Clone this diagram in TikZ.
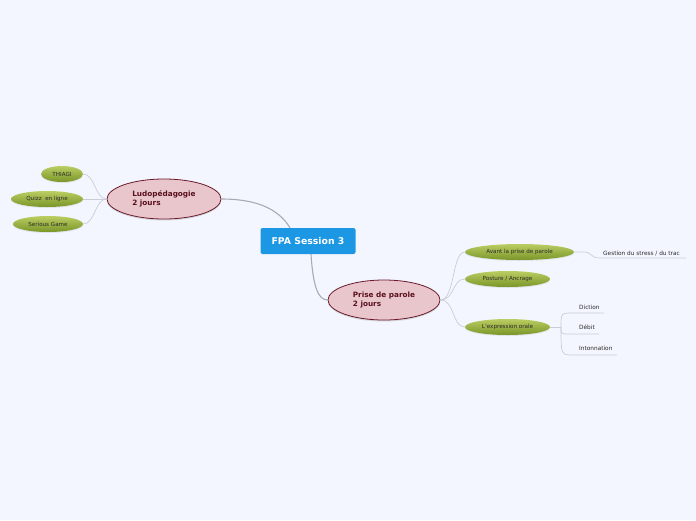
\documentclass[tikz,border=0pt]{standalone}
\usepackage{fontspec}
\setmainfont{DejaVu Sans}
\usetikzlibrary{shapes.geometric,shadows,calc}
\definecolor{bg}{HTML}{F3F6FE}
\definecolor{rootblue}{HTML}{1C97E4}
\definecolor{mainfill}{HTML}{E8C6CB}
\definecolor{mainborder}{HTML}{6A1A2A}
\definecolor{maintext}{HTML}{5A0F1E}
\definecolor{greentop}{HTML}{BACD62}
\definecolor{greenbot}{HTML}{7A9628}
\definecolor{trunkcol}{HTML}{A8AAB4}
\definecolor{twigcol}{HTML}{C9CDD8}
\definecolor{leaftext}{HTML}{2A2A2A}
\tikzset{
  rootbox/.style={fill=rootblue, rounded corners=2pt, text=white, inner sep=0pt,
    font=\fontsize{9.3}{11}\selectfont\bfseries, minimum width=95pt, minimum height=26pt},
  mainnode/.style={ellipse, draw=mainborder, line width=0.8pt, fill=mainfill, inner sep=0pt,
    minimum width=114pt, minimum height=40pt, align=left, text=maintext,
    font=\fontsize{7.3}{9}\selectfont\bfseries,
    drop shadow={opacity=0.25, shadow xshift=0pt, shadow yshift=-1.5pt}},
  subnode/.style={ellipse, top color=greentop, bottom color=greenbot, inner sep=0pt,
    minimum height=16pt, text=leaftext, font=\fontsize{5.6}{6.5}\selectfont,
    drop shadow={opacity=0.15, shadow xshift=0pt, shadow yshift=-1pt}},
  leafnode/.style={inner sep=0pt, anchor=base west, text=leaftext, font=\fontsize{5.8}{7}\selectfont},
  trunk/.style={draw=trunkcol, line width=1.1pt},
  twig/.style={draw=twigcol, line width=0.7pt}
}
\begin{document}
\begin{tikzpicture}[x=1pt,y=-1pt]
\fill[bg] (0,0) rectangle (696,520);
\useasboundingbox (0,0) rectangle (696,520);

% nodes
\node[rootbox] (root) at (308,241) {FPA Session 3};
\node[mainnode] (ludo) at (164,199) {Ludopédagogie\\2 jours};
\node[mainnode, minimum width=112pt] (prise) at (384,300) {Prise de parole\\2 jours};

\node[subnode, minimum width=42pt] (thiagi) at (62,174) {THIAGI};
\node[subnode, minimum width=72pt] (quizz) at (47,199) {Quizz\ \ en ligne};
\node[subnode, minimum width=70pt] (serious) at (48,224) {Serious Game};

\node[subnode, minimum width=109pt] (avant) at (519.5,252) {Avant la prise de parole};
\node[subnode, minimum width=85pt] (posture) at (507.5,279) {Posture / Ancrage};
\node[subnode, minimum width=85pt] (expr) at (507.5,327) {L'expression orale};

\node[leafnode] (gestion) at (603,255) {Gestion du stress / du trac};
\node[leafnode] (diction) at (579,309) {Diction};
\node[leafnode] (debit) at (579,329.5) {Débit};
\node[leafnode] (inton) at (579,350) {Intonnation};

\coordinate (gend) at (686,258);
\coordinate (dend) at (604,313);
\coordinate (bend) at (599,334);
\coordinate (iend) at (617,355);
\coordinate (junc) at (561,327);

% connectors
\draw[trunk] ($(root.north)+(-18,0)$) .. controls (278,208) and (255,199) .. (ludo.east);
\draw[trunk] ($(root.south)+(3,0)$) .. controls (313,286) and (318,300) .. (prise.west);

\draw[twig] (ludo.west) .. controls (95,199) and (95,174) .. (thiagi.east);
\draw[twig] (ludo.west) -- (quizz.east);
\draw[twig] (ludo.west) .. controls (95,199) and (95,224) .. (serious.east);

\draw[twig] (prise.east) .. controls (455,300) and (452,252) .. (avant.west);
\draw[twig] (prise.east) .. controls (455,300) and (452,279) .. (posture.west);
\draw[twig] (prise.east) .. controls (455,300) and (452,327) .. (expr.west);

\draw[twig] (avant.east) -- (584,252) .. controls (592,252) and (590,258) .. (600,258) -- (gend);

\draw[twig] (expr.east) -- (junc);
\draw[twig] (junc) .. controls (561,313) .. (573,313) -- (dend);
\draw[twig] (junc) .. controls (561,334) .. (569,334) -- (bend);
\draw[twig] (junc) .. controls (561,355) .. (573,355) -- (iend);
\end{tikzpicture}
\end{document}
